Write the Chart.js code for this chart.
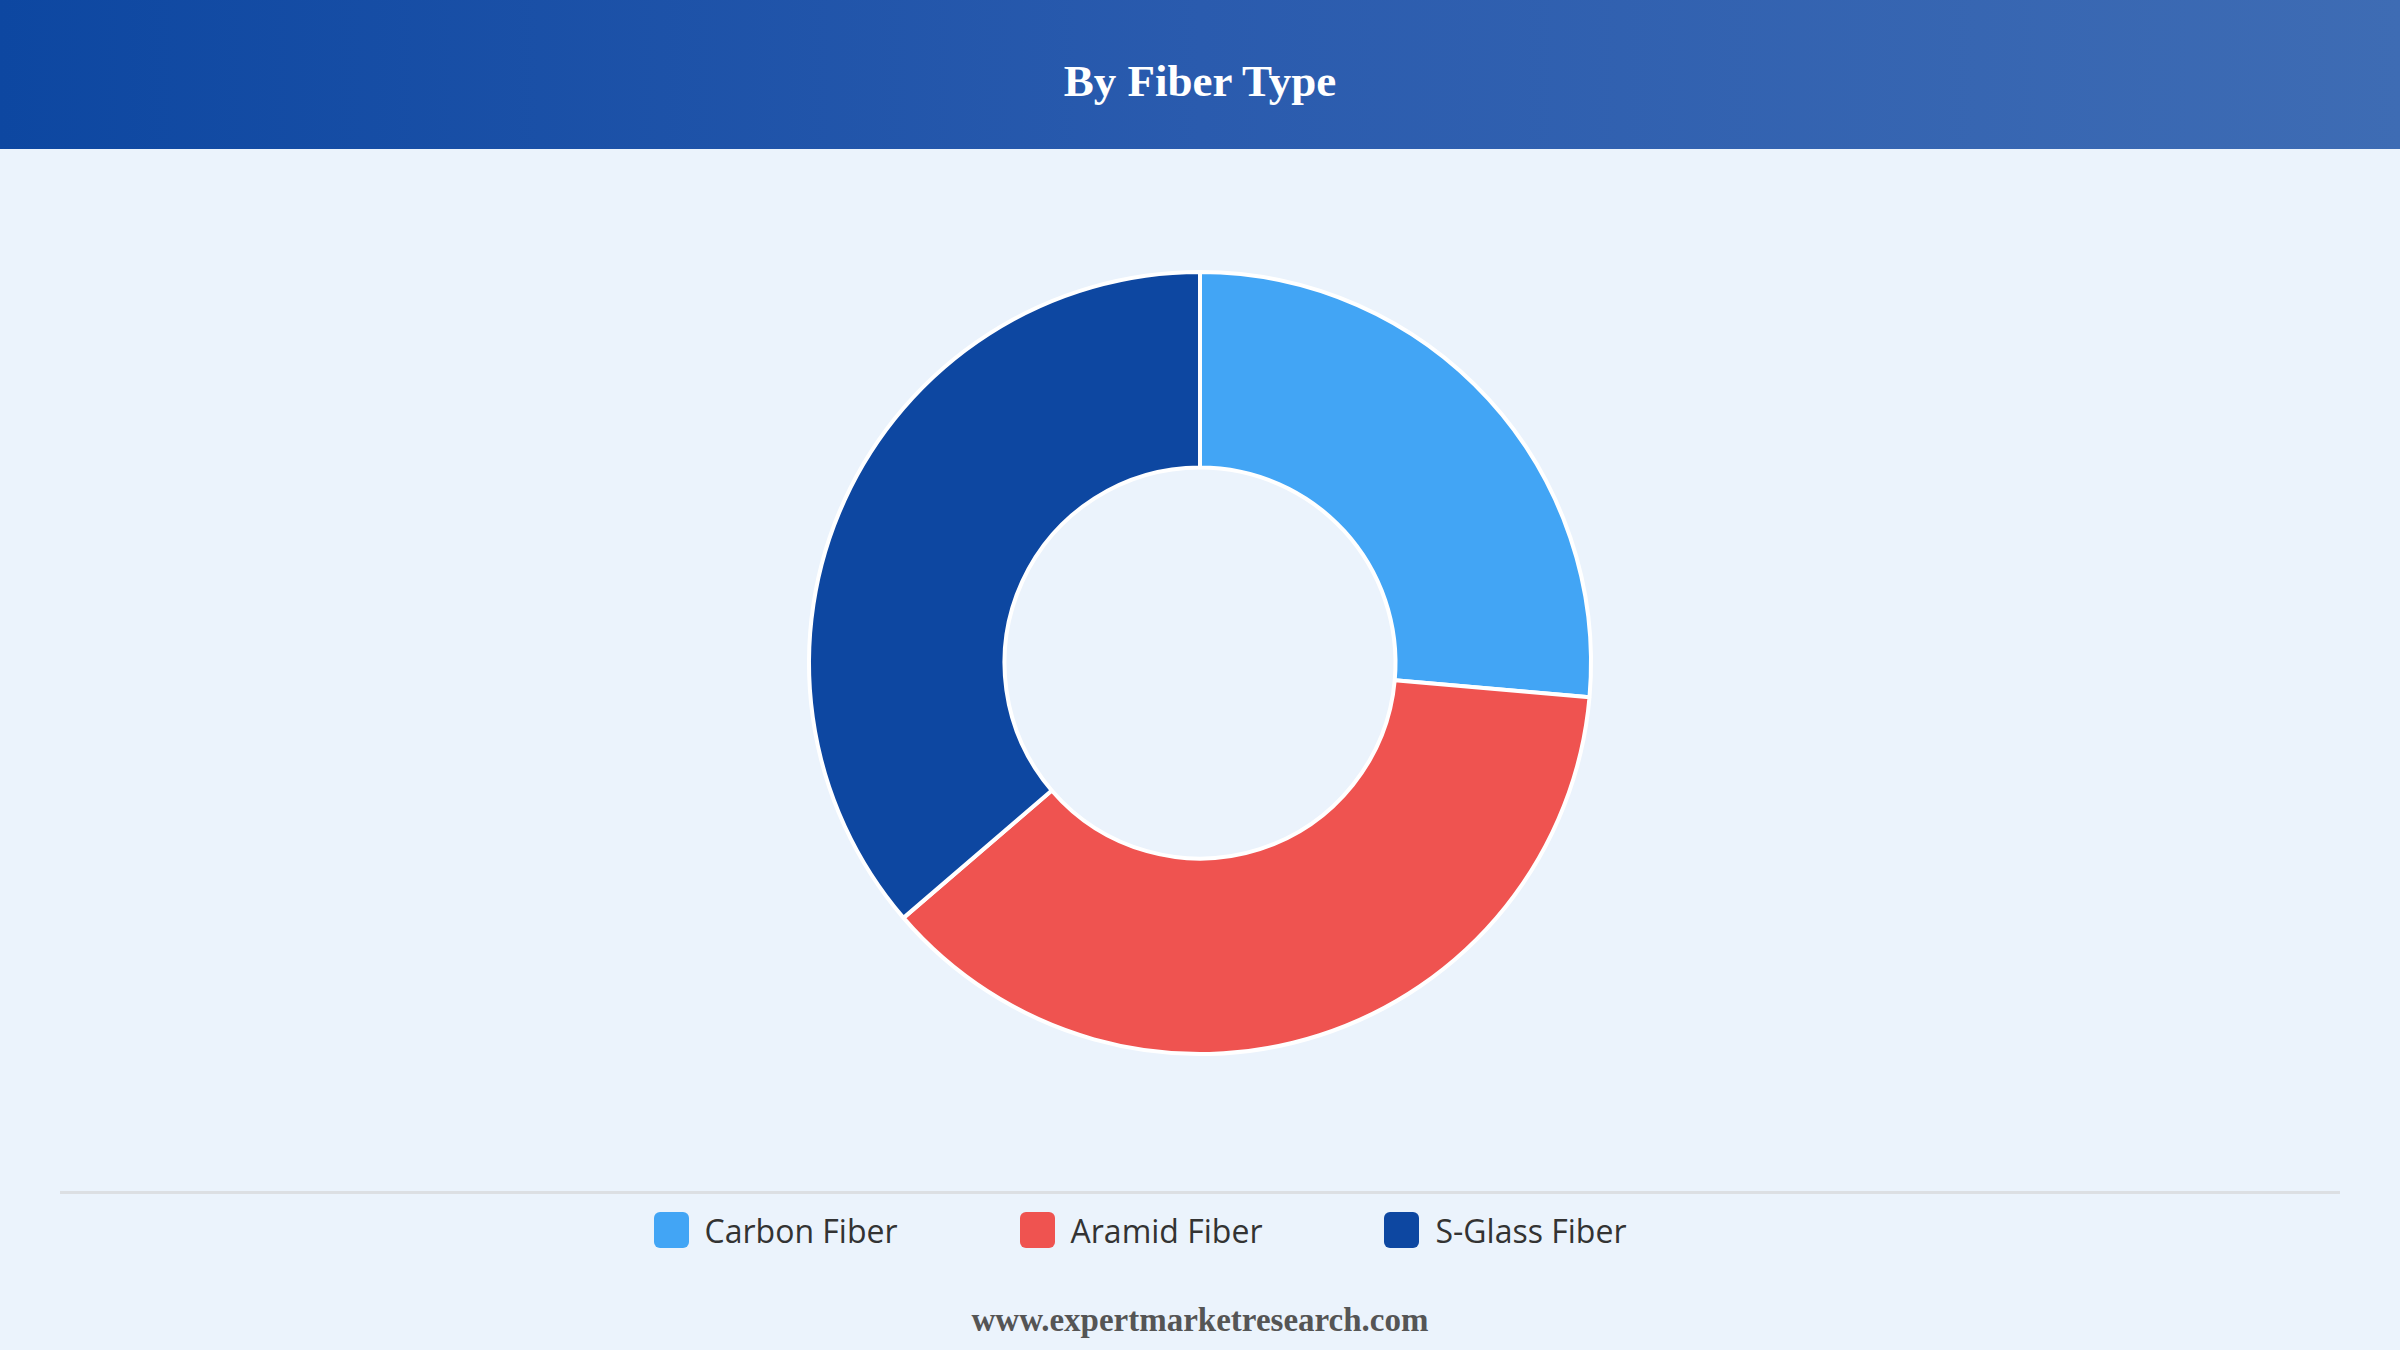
<!DOCTYPE html>
<html>
<head>
<meta charset="utf-8">
<script src="https://cdn.jsdelivr.net/npm/chart.js@4.4.1/dist/chart.umd.min.js"></script>
<style>
    html, body { margin: 0; padding: 0; }
    body { width: 2400px; height: 1350px; background: #ebf3fc; position: relative; overflow: hidden; }
    .header {
        position: absolute; left: 0; top: 0; width: 2400px; height: 149px;
        background: linear-gradient(90deg, #0d47a1 0%, #2a5bae 50%, #3e6cb4 100%);
        color: #fff; font-family: "Liberation Serif", "Times New Roman", serif;
        font-weight: bold; font-size: 45px; text-align: center; line-height: 162px;
    }
    .chart-box { position: absolute; left: 0; top: 149px; width: 2400px; height: 1028px; }
    .separator { position: absolute; left: 60px; top: 1191px; width: 2280px; height: 3px; background: #dcdfe3; }
    #legend {
        position: absolute; left: 0; top: 1208px; width: 2280px; height: 44px;
        display: flex; justify-content: center; align-items: center; gap: 122px;
        font-family: "Open Sans", "Noto Sans", sans-serif; font-size: 32px; color: #333;
    }
    .item { display: flex; align-items: center; }
    .swatch { width: 35px; height: 36px; border-radius: 6px; margin-right: 16px; }
    .footer {
        position: absolute; left: 0; top: 1302px; width: 2400px; text-align: center;
        font-family: "Liberation Serif", "Times New Roman", serif; font-weight: bold;
        font-size: 33px; color: #555;
    }
</style>
</head>
<body>
<div class="header">By Fiber Type</div>
<div class="chart-box"><canvas id="fiberChart"></canvas></div>
<div class="separator"></div>
<div id="legend"></div>
<div class="footer">www.expertmarketresearch.com</div>

<script>
const fiberLabels = ["Carbon Fiber", "Aramid Fiber", "S-Glass Fiber"];
const fiberShares = [26.4, 37.3, 36.3];
const fiberColors = ["#42a5f5", "#ef5350", "#0d47a1"];

// legend row under the separator
const legendBox = document.getElementById("legend");
fiberLabels.forEach((label, i) => {
    const item = document.createElement("div");
    item.className = "item";
    const swatch = document.createElement("span");
    swatch.className = "swatch";
    swatch.style.background = fiberColors[i];
    const text = document.createElement("span");
    text.textContent = label;
    item.appendChild(swatch);
    item.appendChild(text);
    legendBox.appendChild(item);
});

const ctx = document.getElementById("fiberChart");
new Chart(ctx, {
    type: "doughnut",
    data: {
        labels: fiberLabels,
        datasets: [{
            data: fiberShares,
            backgroundColor: fiberColors,
            borderColor: "#ffffff",
            borderWidth: 4,
            radius: 391,
            cutout: "50%"
        }]
    },
    options: {
        responsive: true,
        maintainAspectRatio: false,
        devicePixelRatio: 1,
        animation: false,
        plugins: {
            legend: { display: false },
            tooltip: { enabled: false }
        }
    }
});
</script>
</body>
</html>
